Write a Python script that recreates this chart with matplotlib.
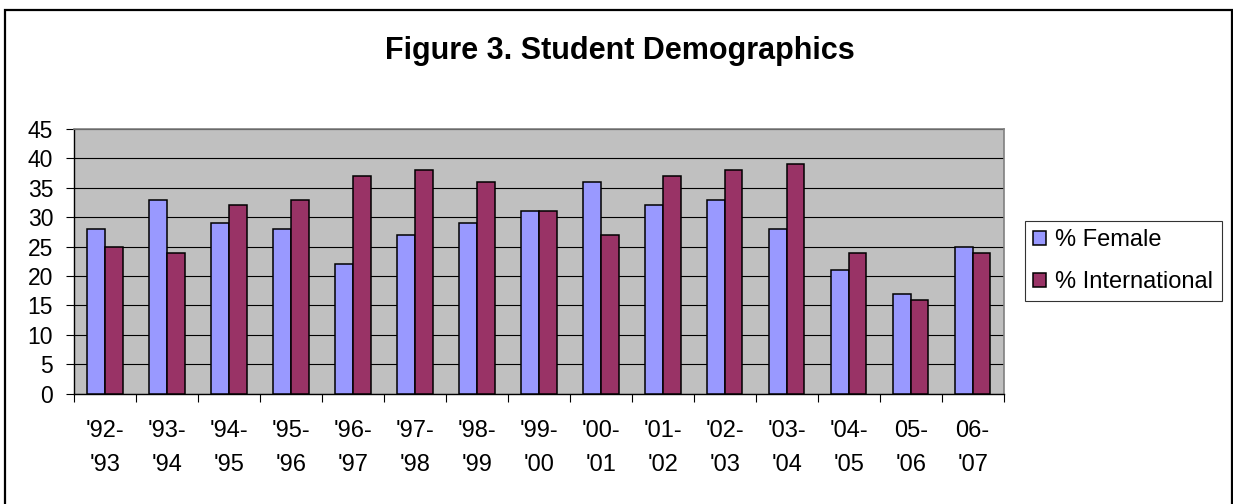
import numpy as np
import matplotlib
matplotlib.use("Agg")
import matplotlib.pyplot as plt
from matplotlib.patches import Rectangle

# data
years = ["'92-\n'93", "'93-\n'94", "'94-\n'95", "'95-\n'96", "'96-\n'97",
         "'97-\n'98", "'98-\n'99", "'99-\n'00", "'00-\n'01", "'01-\n'02",
         "'02-\n'03", "'03-\n'04", "'04-\n'05", "05-\n'06", "06-\n'07"]
pct_female = [28, 33, 29, 28, 22, 27, 29, 31, 36, 32, 33, 28, 21, 17, 25]
pct_international = [25, 24, 32, 33, 37, 38, 36, 31, 27, 37, 38, 39, 24, 16, 24]

plt.rcParams['font.family'] = ['Liberation Sans', 'DejaVu Sans']

fig = plt.figure(figsize=(12.33, 5.04), dpi=100)
ax = fig.add_axes([0.060, 0.219, 0.754, 0.525])

x = np.arange(len(years))
w = 0.286
ax.bar(x - w / 2, pct_female, w, color='#9999FF', edgecolor='black',
       linewidth=1.1, label='% Female', zorder=3)
ax.bar(x + w / 2, pct_international, w, color='#993366', edgecolor='black',
       linewidth=1.1, label='% International', zorder=3)

ax.set_facecolor('#C0C0C0')
ax.set_xlim(-0.5, len(years) - 0.5)
ax.set_ylim(0, 45)
ax.set_yticks(range(0, 50, 5))
ax.yaxis.grid(True, color='black', linewidth=0.8, zorder=1)
ax.set_axisbelow(True)

# category labels at centres, tick marks between categories
ax.set_xticks(x)
ax.set_xticklabels(years, linespacing=1.7)
ax.set_xticks(np.arange(-0.5, len(years)), minor=True)
ax.tick_params(axis='x', which='major', length=0, pad=19, labelsize=17)
ax.tick_params(axis='x', which='minor', length=6, width=0.8, direction='out')
ax.tick_params(axis='y', length=6, width=0.8, pad=9, labelsize=16.5)

for s in ['top', 'right']:
    ax.spines[s].set_color('#808080')
    ax.spines[s].set_linewidth(1.2)
for s in ['left', 'bottom']:
    ax.spines[s].set_color('black')
    ax.spines[s].set_linewidth(1.0)

fig.text(0.5024, 0.898, 'Figure 3. Student Demographics', ha='center',
         va='center', fontsize=22, fontweight='bold')

leg = fig.legend(loc='center left', bbox_to_anchor=(0.831, 0.482),
                 fontsize=17, frameon=True, fancybox=False, handlelength=0.55,
                 handleheight=0.55, handletextpad=0.4, borderpad=0.35,
                 borderaxespad=0, labelspacing=0.85)
leg.get_frame().set_edgecolor('black')
leg.get_frame().set_linewidth(0.8)

# outer chart frame
fig.patches.append(Rectangle((5 / 1233, -0.05), 1227 / 1233, 1.05 - 10 / 504,
                             transform=fig.transFigure, fill=False,
                             edgecolor='black', linewidth=1.6))

fig.savefig('out.png', dpi=100)
